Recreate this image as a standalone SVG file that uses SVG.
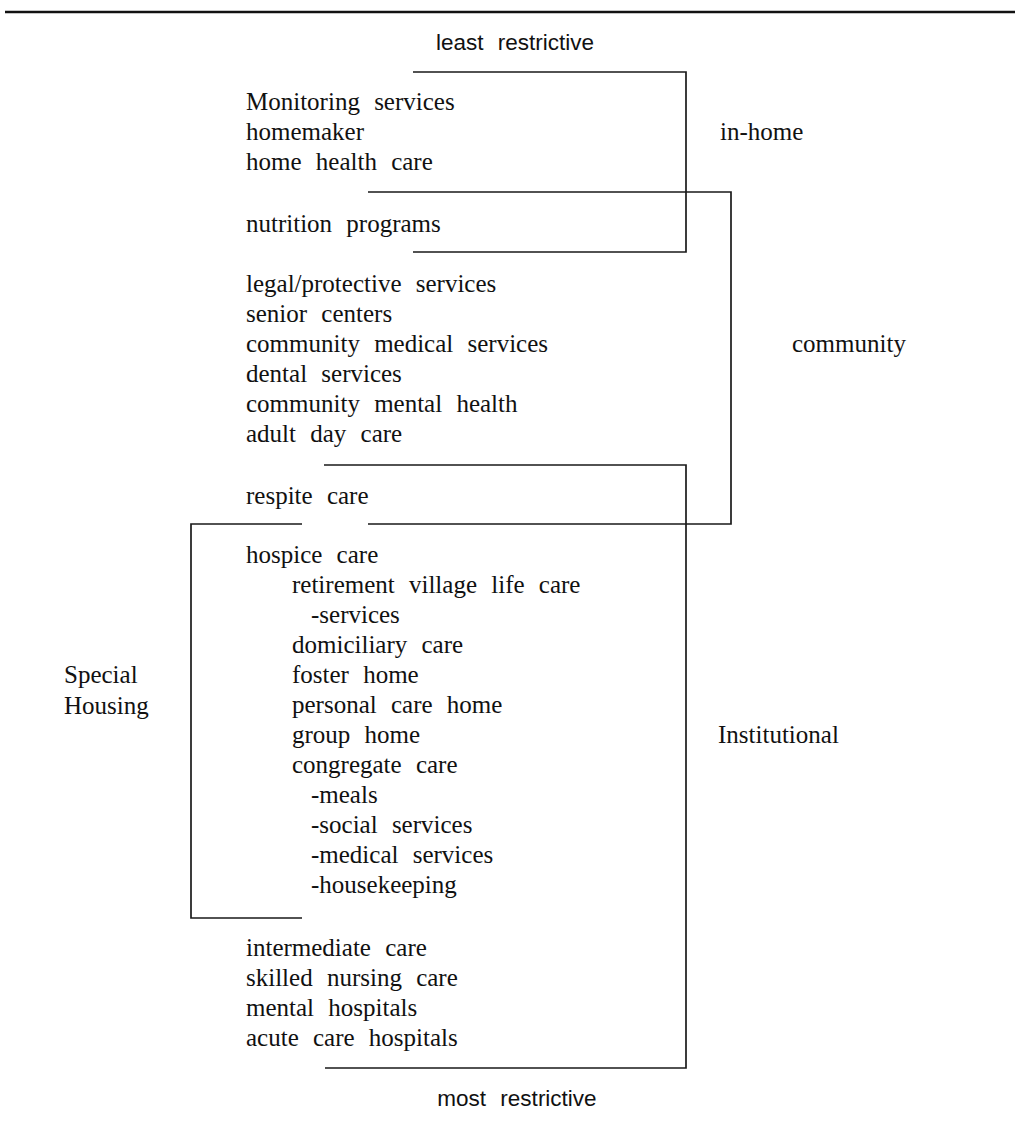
<svg xmlns="http://www.w3.org/2000/svg" width="1015" height="1121" viewBox="0 0 1015 1121">
<style>
.t{font-family:"Liberation Serif","DejaVu Serif",serif;font-size:25px;fill:#111;word-spacing:8px}
.s{font-family:"Liberation Sans","DejaVu Sans",sans-serif;font-size:22.5px;fill:#111;word-spacing:8px}
.b{fill:none;stroke:#1a1a1a;stroke-width:1.7}
</style>
<rect width="1015" height="1121" fill="#fff"/>
<line x1="5" y1="12" x2="1015" y2="12" stroke="#111" stroke-width="2.5"/>
<text class="s" x="515" y="50" text-anchor="middle">least restrictive</text>
<text class="s" x="517" y="1106" text-anchor="middle">most restrictive</text>
<g id="in-home">
<path class="b" d="M413 72 H686 V252 H413"/>
<text class="t" x="720" y="140">in-home</text>
</g>
<g id="community">
<path class="b" d="M368 192 H731 V524 H368"/>
<text class="t" x="792" y="352">community</text>
</g>
<g id="institutional">
<path class="b" d="M324 465 H686 V1068 H325"/>
<text class="t" x="718" y="743">Institutional</text>
</g>
<g id="special-housing">
<path class="b" d="M302 524 H191 V918 H302"/>
<text class="t" x="64" y="683">Special</text>
<text class="t" x="64" y="714">Housing</text>
</g>
<g id="services">
<text class="t" x="246" y="110">Monitoring services</text>
<text class="t" x="246" y="140">homemaker</text>
<text class="t" x="246" y="170">home health care</text>
<text class="t" x="246" y="232">nutrition programs</text>
<text class="t" x="246" y="292">legal/protective services</text>
<text class="t" x="246" y="322">senior centers</text>
<text class="t" x="246" y="352">community medical services</text>
<text class="t" x="246" y="382">dental services</text>
<text class="t" x="246" y="412">community mental health</text>
<text class="t" x="246" y="442">adult day care</text>
<text class="t" x="246" y="504">respite care</text>
<text class="t" x="246" y="563">hospice care</text>
<text class="t" x="292" y="593">retirement village life care</text>
<text class="t" x="311" y="623">-services</text>
<text class="t" x="292" y="653">domiciliary care</text>
<text class="t" x="292" y="683">foster home</text>
<text class="t" x="292" y="713">personal care home</text>
<text class="t" x="292" y="743">group home</text>
<text class="t" x="292" y="773">congregate care</text>
<text class="t" x="311" y="803">-meals</text>
<text class="t" x="311" y="833">-social services</text>
<text class="t" x="311" y="863">-medical services</text>
<text class="t" x="311" y="893">-housekeeping</text>
<text class="t" x="246" y="956">intermediate care</text>
<text class="t" x="246" y="986">skilled nursing care</text>
<text class="t" x="246" y="1016">mental hospitals</text>
<text class="t" x="246" y="1046">acute care hospitals</text>
</g>
<g id="connectors"></g>
</svg>
